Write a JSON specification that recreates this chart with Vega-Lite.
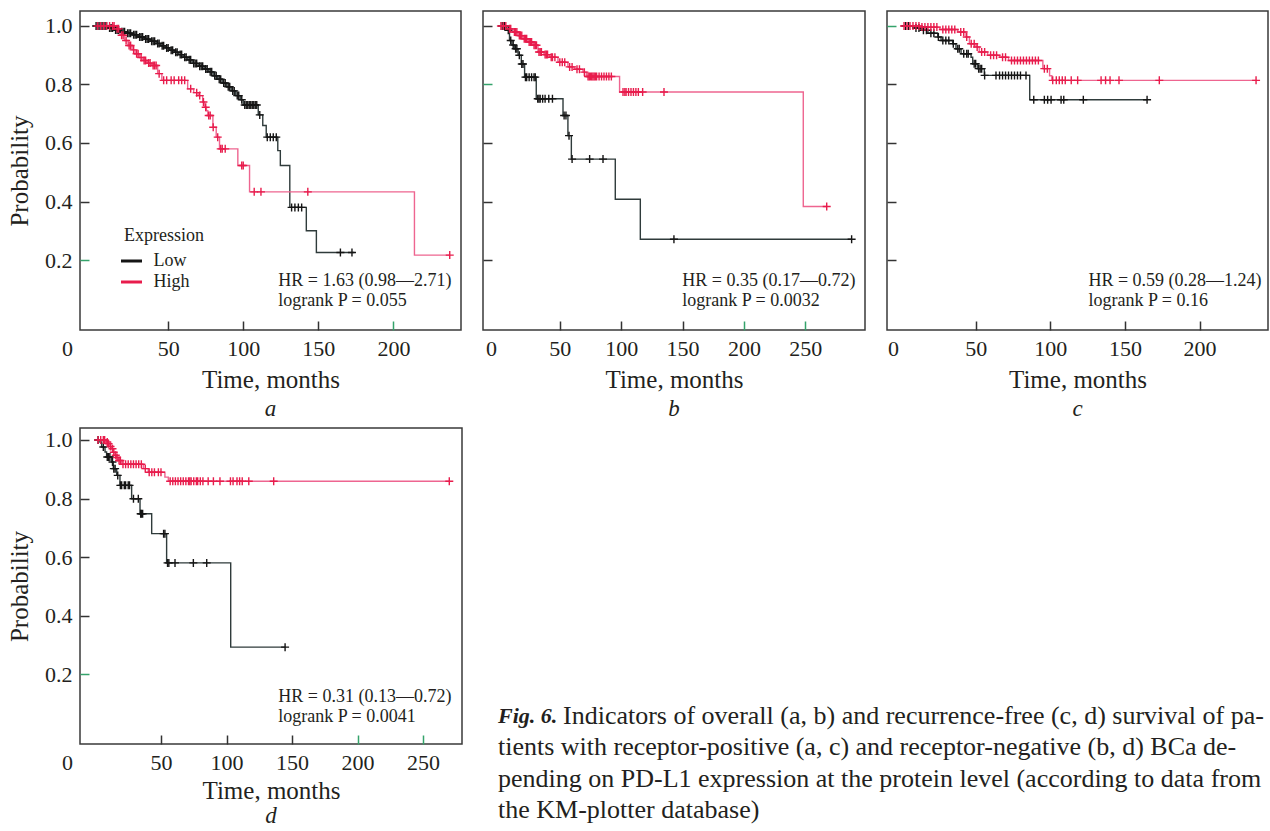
{
  "$schema": "https://vega.github.io/schema/vega-lite/v6.json",
  "padding": {"left": 6, "top": 10, "right": 0, "bottom": 0},
  "background": "white",
  "config": {
    "view": {"stroke": "#3a3a3a", "strokeWidth": 1.5},
    "axis": {"domain": false, "grid": false, "tickSize": -9, "tickWidth": 1.5, "labelFont": "Liberation Serif", "labelFontSize": 22, "labelColor": "#231f20", "titleFont": "Liberation Serif", "titleFontSize": 25, "titleFontWeight": "normal", "titleColor": "#231f20", "labelFlush": false, "labelOverlap": false},
    "axisX": {"labelPadding": 27, "labelBaseline": "middle", "titlePadding": 8},
    "axisY": {"labelPadding": 17, "titlePadding": 12},
    "title": {"font": "Liberation Serif", "fontSize": 23, "fontStyle": "italic", "fontWeight": "normal", "color": "#231f20", "orient": "bottom", "offset": 6}
  },
  "datasets": {
    "steps": [
      {"p":"a","g":"Low","t":0,"s":1},{"p":"a","g":"Low","t":10,"s":0.993},{"p":"a","g":"Low","t":14,"s":0.986},{"p":"a","g":"Low","t":18,"s":0.98},{"p":"a","g":"Low","t":22,"s":0.975},{"p":"a","g":"Low","t":26,"s":0.97},{"p":"a","g":"Low","t":30,"s":0.962},{"p":"a","g":"Low","t":34,"s":0.955},{"p":"a","g":"Low","t":38,"s":0.948},{"p":"a","g":"Low","t":42,"s":0.94},{"p":"a","g":"Low","t":45,"s":0.932},{"p":"a","g":"Low","t":48,"s":0.925},{"p":"a","g":"Low","t":51,"s":0.917},{"p":"a","g":"Low","t":54,"s":0.91},{"p":"a","g":"Low","t":57,"s":0.902},{"p":"a","g":"Low","t":60,"s":0.893},{"p":"a","g":"Low","t":63,"s":0.884},{"p":"a","g":"Low","t":66,"s":0.872},{"p":"a","g":"Low","t":70,"s":0.862},{"p":"a","g":"Low","t":74,"s":0.853},{"p":"a","g":"Low","t":77,"s":0.843},{"p":"a","g":"Low","t":80,"s":0.83},{"p":"a","g":"Low","t":83,"s":0.818},{"p":"a","g":"Low","t":86,"s":0.805},{"p":"a","g":"Low","t":89,"s":0.792},{"p":"a","g":"Low","t":92,"s":0.778},{"p":"a","g":"Low","t":95,"s":0.762},{"p":"a","g":"Low","t":98,"s":0.748},{"p":"a","g":"Low","t":100,"s":0.73},{"p":"a","g":"Low","t":110,"s":0.696},{"p":"a","g":"Low","t":113,"s":0.66},{"p":"a","g":"Low","t":115.3,"s":0.62},{"p":"a","g":"Low","t":123,"s":0.574},{"p":"a","g":"Low","t":124.7,"s":0.523},{"p":"a","g":"Low","t":131,"s":0.38},{"p":"a","g":"Low","t":142,"s":0.3},{"p":"a","g":"Low","t":148.7,"s":0.226},{"p":"a","g":"Low","t":174,"s":0.226},
      {"p":"a","g":"High","t":0,"s":1},{"p":"a","g":"High","t":15.8,"s":0.99},{"p":"a","g":"High","t":18,"s":0.968},{"p":"a","g":"High","t":21,"s":0.95},{"p":"a","g":"High","t":23.3,"s":0.933},{"p":"a","g":"High","t":26,"s":0.918},{"p":"a","g":"High","t":28,"s":0.905},{"p":"a","g":"High","t":31,"s":0.892},{"p":"a","g":"High","t":33.3,"s":0.882},{"p":"a","g":"High","t":36,"s":0.873},{"p":"a","g":"High","t":39,"s":0.865},{"p":"a","g":"High","t":43,"s":0.837},{"p":"a","g":"High","t":45.8,"s":0.814},{"p":"a","g":"High","t":63,"s":0.785},{"p":"a","g":"High","t":67,"s":0.772},{"p":"a","g":"High","t":70,"s":0.762},{"p":"a","g":"High","t":73,"s":0.74},{"p":"a","g":"High","t":74,"s":0.722},{"p":"a","g":"High","t":75.5,"s":0.71},{"p":"a","g":"High","t":76.4,"s":0.694},{"p":"a","g":"High","t":79.8,"s":0.654},{"p":"a","g":"High","t":82,"s":0.62},{"p":"a","g":"High","t":84.2,"s":0.58},{"p":"a","g":"High","t":96.4,"s":0.523},{"p":"a","g":"High","t":104.2,"s":0.433},{"p":"a","g":"High","t":214,"s":0.217},{"p":"a","g":"High","t":237.5,"s":0.217},
      {"p":"b","g":"Low","t":0,"s":1},{"p":"b","g":"Low","t":6.4,"s":0.985},{"p":"b","g":"Low","t":9,"s":0.95},{"p":"b","g":"Low","t":11,"s":0.935},{"p":"b","g":"Low","t":13,"s":0.922},{"p":"b","g":"Low","t":16,"s":0.9},{"p":"b","g":"Low","t":18.6,"s":0.87},{"p":"b","g":"Low","t":21.3,"s":0.825},{"p":"b","g":"Low","t":30.8,"s":0.751},{"p":"b","g":"Low","t":52.6,"s":0.694},{"p":"b","g":"Low","t":56.6,"s":0.625},{"p":"b","g":"Low","t":59.4,"s":0.545},{"p":"b","g":"Low","t":95.2,"s":0.408},{"p":"b","g":"Low","t":115.6,"s":0.271},{"p":"b","g":"Low","t":287.8,"s":0.271},
      {"p":"b","g":"High","t":0,"s":1},{"p":"b","g":"High","t":8,"s":0.99},{"p":"b","g":"High","t":11.8,"s":0.979},{"p":"b","g":"High","t":16,"s":0.967},{"p":"b","g":"High","t":20,"s":0.956},{"p":"b","g":"High","t":24,"s":0.945},{"p":"b","g":"High","t":28,"s":0.934},{"p":"b","g":"High","t":32.2,"s":0.911},{"p":"b","g":"High","t":37,"s":0.902},{"p":"b","g":"High","t":41.7,"s":0.893},{"p":"b","g":"High","t":48.5,"s":0.876},{"p":"b","g":"High","t":56.6,"s":0.86},{"p":"b","g":"High","t":62,"s":0.852},{"p":"b","g":"High","t":68.9,"s":0.842},{"p":"b","g":"High","t":71.6,"s":0.827},{"p":"b","g":"High","t":98.7,"s":0.774},{"p":"b","g":"High","t":248.4,"s":0.383},{"p":"b","g":"High","t":267.5,"s":0.383},
      {"p":"c","g":"Low","t":0,"s":1},{"p":"c","g":"Low","t":8,"s":0.993},{"p":"c","g":"Low","t":13.4,"s":0.985},{"p":"c","g":"Low","t":18,"s":0.975},{"p":"c","g":"Low","t":24.6,"s":0.962},{"p":"c","g":"Low","t":26.8,"s":0.95},{"p":"c","g":"Low","t":34.6,"s":0.939},{"p":"c","g":"Low","t":36.8,"s":0.922},{"p":"c","g":"Low","t":40.2,"s":0.905},{"p":"c","g":"Low","t":46.9,"s":0.893},{"p":"c","g":"Low","t":48,"s":0.871},{"p":"c","g":"Low","t":51.4,"s":0.854},{"p":"c","g":"Low","t":55.8,"s":0.831},{"p":"c","g":"Low","t":86.2,"s":0.748},{"p":"c","g":"Low","t":164.8,"s":0.748},
      {"p":"c","g":"High","t":0,"s":1},{"p":"c","g":"High","t":13.4,"s":0.996},{"p":"c","g":"High","t":26,"s":0.988},{"p":"c","g":"High","t":38,"s":0.979},{"p":"c","g":"High","t":43.5,"s":0.962},{"p":"c","g":"High","t":45.8,"s":0.939},{"p":"c","g":"High","t":50.2,"s":0.928},{"p":"c","g":"High","t":52.4,"s":0.911},{"p":"c","g":"High","t":58,"s":0.9},{"p":"c","g":"High","t":66,"s":0.893},{"p":"c","g":"High","t":72,"s":0.882},{"p":"c","g":"High","t":95,"s":0.854},{"p":"c","g":"High","t":99.5,"s":0.83},{"p":"c","g":"High","t":101,"s":0.814},{"p":"c","g":"High","t":237.8,"s":0.814},
      {"p":"d","g":"Low","t":0,"s":1},{"p":"d","g":"Low","t":3.4,"s":0.993},{"p":"d","g":"Low","t":4.7,"s":0.976},{"p":"d","g":"Low","t":7.3,"s":0.959},{"p":"d","g":"Low","t":8.5,"s":0.942},{"p":"d","g":"Low","t":12.4,"s":0.925},{"p":"d","g":"Low","t":13.6,"s":0.902},{"p":"d","g":"Low","t":16.2,"s":0.879},{"p":"d","g":"Low","t":18.7,"s":0.845},{"p":"d","g":"Low","t":27.6,"s":0.799},{"p":"d","g":"Low","t":34,"s":0.748},{"p":"d","g":"Low","t":42.9,"s":0.68},{"p":"d","g":"Low","t":54.3,"s":0.58},{"p":"d","g":"Low","t":103.2,"s":0.292},{"p":"d","g":"Low","t":144.7,"s":0.292},
      {"p":"d","g":"High","t":0,"s":1},{"p":"d","g":"High","t":8.5,"s":0.993},{"p":"d","g":"High","t":9.8,"s":0.987},{"p":"d","g":"High","t":11,"s":0.978},{"p":"d","g":"High","t":12.4,"s":0.97},{"p":"d","g":"High","t":13.5,"s":0.958},{"p":"d","g":"High","t":14.9,"s":0.948},{"p":"d","g":"High","t":16,"s":0.94},{"p":"d","g":"High","t":17.4,"s":0.93},{"p":"d","g":"High","t":20,"s":0.917},{"p":"d","g":"High","t":36.5,"s":0.902},{"p":"d","g":"High","t":40.3,"s":0.89},{"p":"d","g":"High","t":53,"s":0.873},{"p":"d","g":"High","t":55.6,"s":0.859},{"p":"d","g":"High","t":270,"s":0.859}
    ],
    "censors": [
      {"p":"a","g":"Low","t":2,"s":1},{"p":"a","g":"Low","t":3,"s":1},{"p":"a","g":"Low","t":4,"s":1},{"p":"a","g":"Low","t":5,"s":1},{"p":"a","g":"Low","t":6,"s":1},{"p":"a","g":"Low","t":7,"s":1},{"p":"a","g":"Low","t":8,"s":1},{"p":"a","g":"Low","t":9,"s":1},{"p":"a","g":"Low","t":11,"s":0.993},{"p":"a","g":"Low","t":12,"s":0.993},{"p":"a","g":"Low","t":13,"s":0.993},{"p":"a","g":"Low","t":15,"s":0.986},{"p":"a","g":"Low","t":16,"s":0.986},{"p":"a","g":"Low","t":17,"s":0.986},{"p":"a","g":"Low","t":19,"s":0.98},{"p":"a","g":"Low","t":20,"s":0.98},{"p":"a","g":"Low","t":21,"s":0.98},{"p":"a","g":"Low","t":23,"s":0.975},{"p":"a","g":"Low","t":24,"s":0.975},{"p":"a","g":"Low","t":25,"s":0.975},{"p":"a","g":"Low","t":27,"s":0.97},{"p":"a","g":"Low","t":28,"s":0.97},{"p":"a","g":"Low","t":29,"s":0.97},{"p":"a","g":"Low","t":31,"s":0.962},{"p":"a","g":"Low","t":32,"s":0.962},{"p":"a","g":"Low","t":33,"s":0.962},{"p":"a","g":"Low","t":35,"s":0.955},{"p":"a","g":"Low","t":36,"s":0.955},{"p":"a","g":"Low","t":37,"s":0.955},{"p":"a","g":"Low","t":39,"s":0.948},{"p":"a","g":"Low","t":40,"s":0.948},{"p":"a","g":"Low","t":41,"s":0.948},{"p":"a","g":"Low","t":43,"s":0.94},{"p":"a","g":"Low","t":44,"s":0.94},{"p":"a","g":"Low","t":46,"s":0.932},{"p":"a","g":"Low","t":47,"s":0.932},{"p":"a","g":"Low","t":49,"s":0.925},{"p":"a","g":"Low","t":50,"s":0.925},{"p":"a","g":"Low","t":52,"s":0.917},{"p":"a","g":"Low","t":53,"s":0.917},{"p":"a","g":"Low","t":55,"s":0.91},{"p":"a","g":"Low","t":56,"s":0.91},{"p":"a","g":"Low","t":58,"s":0.902},{"p":"a","g":"Low","t":59,"s":0.902},{"p":"a","g":"Low","t":61,"s":0.893},{"p":"a","g":"Low","t":62,"s":0.893},{"p":"a","g":"Low","t":64,"s":0.884},{"p":"a","g":"Low","t":65,"s":0.884},{"p":"a","g":"Low","t":67,"s":0.872},{"p":"a","g":"Low","t":68,"s":0.872},{"p":"a","g":"Low","t":69,"s":0.872},{"p":"a","g":"Low","t":71,"s":0.862},{"p":"a","g":"Low","t":72,"s":0.862},{"p":"a","g":"Low","t":73,"s":0.862},{"p":"a","g":"Low","t":75,"s":0.853},{"p":"a","g":"Low","t":76,"s":0.853},{"p":"a","g":"Low","t":78,"s":0.843},{"p":"a","g":"Low","t":79,"s":0.843},{"p":"a","g":"Low","t":81,"s":0.83},{"p":"a","g":"Low","t":82,"s":0.83},{"p":"a","g":"Low","t":84,"s":0.818},{"p":"a","g":"Low","t":85,"s":0.818},{"p":"a","g":"Low","t":87,"s":0.805},{"p":"a","g":"Low","t":88,"s":0.805},{"p":"a","g":"Low","t":90,"s":0.792},{"p":"a","g":"Low","t":91,"s":0.792},{"p":"a","g":"Low","t":93,"s":0.778},{"p":"a","g":"Low","t":94,"s":0.778},{"p":"a","g":"Low","t":96,"s":0.762},{"p":"a","g":"Low","t":97,"s":0.762},{"p":"a","g":"Low","t":99,"s":0.748},{"p":"a","g":"Low","t":101,"s":0.73},{"p":"a","g":"Low","t":102,"s":0.73},{"p":"a","g":"Low","t":103,"s":0.73},{"p":"a","g":"Low","t":104,"s":0.73},{"p":"a","g":"Low","t":105,"s":0.73},{"p":"a","g":"Low","t":106,"s":0.73},{"p":"a","g":"Low","t":107,"s":0.73},{"p":"a","g":"Low","t":108,"s":0.73},{"p":"a","g":"Low","t":109,"s":0.73},{"p":"a","g":"Low","t":111,"s":0.696},{"p":"a","g":"Low","t":116,"s":0.62},{"p":"a","g":"Low","t":118,"s":0.62},{"p":"a","g":"Low","t":120,"s":0.62},{"p":"a","g":"Low","t":122,"s":0.62},{"p":"a","g":"Low","t":132.2,"s":0.38},{"p":"a","g":"Low","t":134.4,"s":0.38},{"p":"a","g":"Low","t":136.7,"s":0.38},{"p":"a","g":"Low","t":138.9,"s":0.38},{"p":"a","g":"Low","t":164.7,"s":0.226},{"p":"a","g":"Low","t":172.4,"s":0.226},
      {"p":"a","g":"High","t":3,"s":1},{"p":"a","g":"High","t":5,"s":1},{"p":"a","g":"High","t":7,"s":1},{"p":"a","g":"High","t":9,"s":1},{"p":"a","g":"High","t":11,"s":1},{"p":"a","g":"High","t":13,"s":1},{"p":"a","g":"High","t":14,"s":1},{"p":"a","g":"High","t":16,"s":0.99},{"p":"a","g":"High","t":17,"s":0.99},{"p":"a","g":"High","t":19,"s":0.968},{"p":"a","g":"High","t":20,"s":0.968},{"p":"a","g":"High","t":22,"s":0.95},{"p":"a","g":"High","t":24,"s":0.933},{"p":"a","g":"High","t":25,"s":0.933},{"p":"a","g":"High","t":27,"s":0.918},{"p":"a","g":"High","t":29,"s":0.905},{"p":"a","g":"High","t":30,"s":0.905},{"p":"a","g":"High","t":32,"s":0.892},{"p":"a","g":"High","t":34,"s":0.882},{"p":"a","g":"High","t":35,"s":0.882},{"p":"a","g":"High","t":37,"s":0.873},{"p":"a","g":"High","t":38,"s":0.873},{"p":"a","g":"High","t":40,"s":0.865},{"p":"a","g":"High","t":41,"s":0.865},{"p":"a","g":"High","t":42,"s":0.865},{"p":"a","g":"High","t":44,"s":0.837},{"p":"a","g":"High","t":47,"s":0.814},{"p":"a","g":"High","t":49,"s":0.814},{"p":"a","g":"High","t":52,"s":0.814},{"p":"a","g":"High","t":54,"s":0.814},{"p":"a","g":"High","t":57,"s":0.814},{"p":"a","g":"High","t":59,"s":0.814},{"p":"a","g":"High","t":61,"s":0.814},{"p":"a","g":"High","t":65,"s":0.785},{"p":"a","g":"High","t":69,"s":0.772},{"p":"a","g":"High","t":71,"s":0.762},{"p":"a","g":"High","t":73.5,"s":0.74},{"p":"a","g":"High","t":75,"s":0.722},{"p":"a","g":"High","t":77,"s":0.694},{"p":"a","g":"High","t":78,"s":0.694},{"p":"a","g":"High","t":80,"s":0.654},{"p":"a","g":"High","t":83,"s":0.62},{"p":"a","g":"High","t":85,"s":0.58},{"p":"a","g":"High","t":86,"s":0.58},{"p":"a","g":"High","t":88,"s":0.58},{"p":"a","g":"High","t":99,"s":0.523},{"p":"a","g":"High","t":100,"s":0.523},{"p":"a","g":"High","t":107.3,"s":0.433},{"p":"a","g":"High","t":111.8,"s":0.433},{"p":"a","g":"High","t":143,"s":0.433},{"p":"a","g":"High","t":237.5,"s":0.217},
      {"p":"b","g":"Low","t":3,"s":1},{"p":"b","g":"Low","t":5,"s":1},{"p":"b","g":"Low","t":8,"s":0.985},{"p":"b","g":"Low","t":10,"s":0.95},{"p":"b","g":"Low","t":12,"s":0.935},{"p":"b","g":"Low","t":14,"s":0.922},{"p":"b","g":"Low","t":15,"s":0.922},{"p":"b","g":"Low","t":17,"s":0.9},{"p":"b","g":"Low","t":19,"s":0.87},{"p":"b","g":"Low","t":20,"s":0.87},{"p":"b","g":"Low","t":22,"s":0.825},{"p":"b","g":"Low","t":23,"s":0.825},{"p":"b","g":"Low","t":25,"s":0.825},{"p":"b","g":"Low","t":27,"s":0.825},{"p":"b","g":"Low","t":29,"s":0.825},{"p":"b","g":"Low","t":30,"s":0.825},{"p":"b","g":"Low","t":32,"s":0.751},{"p":"b","g":"Low","t":33,"s":0.751},{"p":"b","g":"Low","t":34,"s":0.751},{"p":"b","g":"Low","t":36,"s":0.751},{"p":"b","g":"Low","t":38,"s":0.751},{"p":"b","g":"Low","t":41,"s":0.751},{"p":"b","g":"Low","t":44,"s":0.751},{"p":"b","g":"Low","t":53.5,"s":0.694},{"p":"b","g":"Low","t":55,"s":0.694},{"p":"b","g":"Low","t":57.5,"s":0.625},{"p":"b","g":"Low","t":60,"s":0.545},{"p":"b","g":"Low","t":74.3,"s":0.545},{"p":"b","g":"Low","t":85.2,"s":0.545},{"p":"b","g":"Low","t":143,"s":0.271},{"p":"b","g":"Low","t":287.8,"s":0.271},
      {"p":"b","g":"High","t":2,"s":1},{"p":"b","g":"High","t":4,"s":1},{"p":"b","g":"High","t":6,"s":1},{"p":"b","g":"High","t":9,"s":0.99},{"p":"b","g":"High","t":10,"s":0.99},{"p":"b","g":"High","t":13,"s":0.979},{"p":"b","g":"High","t":14,"s":0.979},{"p":"b","g":"High","t":15,"s":0.979},{"p":"b","g":"High","t":17,"s":0.967},{"p":"b","g":"High","t":18,"s":0.967},{"p":"b","g":"High","t":19,"s":0.967},{"p":"b","g":"High","t":21,"s":0.956},{"p":"b","g":"High","t":22,"s":0.956},{"p":"b","g":"High","t":23,"s":0.956},{"p":"b","g":"High","t":25,"s":0.945},{"p":"b","g":"High","t":26,"s":0.945},{"p":"b","g":"High","t":27,"s":0.945},{"p":"b","g":"High","t":29,"s":0.934},{"p":"b","g":"High","t":30,"s":0.934},{"p":"b","g":"High","t":31,"s":0.934},{"p":"b","g":"High","t":33,"s":0.911},{"p":"b","g":"High","t":34,"s":0.911},{"p":"b","g":"High","t":35,"s":0.911},{"p":"b","g":"High","t":38,"s":0.902},{"p":"b","g":"High","t":39,"s":0.902},{"p":"b","g":"High","t":40,"s":0.902},{"p":"b","g":"High","t":43,"s":0.893},{"p":"b","g":"High","t":44,"s":0.893},{"p":"b","g":"High","t":46,"s":0.893},{"p":"b","g":"High","t":50,"s":0.876},{"p":"b","g":"High","t":52,"s":0.876},{"p":"b","g":"High","t":54,"s":0.876},{"p":"b","g":"High","t":58,"s":0.86},{"p":"b","g":"High","t":60,"s":0.86},{"p":"b","g":"High","t":64,"s":0.852},{"p":"b","g":"High","t":66,"s":0.852},{"p":"b","g":"High","t":70,"s":0.842},{"p":"b","g":"High","t":73,"s":0.827},{"p":"b","g":"High","t":74,"s":0.827},{"p":"b","g":"High","t":75,"s":0.827},{"p":"b","g":"High","t":76,"s":0.827},{"p":"b","g":"High","t":77,"s":0.827},{"p":"b","g":"High","t":78,"s":0.827},{"p":"b","g":"High","t":79,"s":0.827},{"p":"b","g":"High","t":80,"s":0.827},{"p":"b","g":"High","t":82,"s":0.827},{"p":"b","g":"High","t":84,"s":0.827},{"p":"b","g":"High","t":86,"s":0.827},{"p":"b","g":"High","t":88,"s":0.827},{"p":"b","g":"High","t":90,"s":0.827},{"p":"b","g":"High","t":92,"s":0.827},{"p":"b","g":"High","t":101.5,"s":0.774},{"p":"b","g":"High","t":103,"s":0.774},{"p":"b","g":"High","t":104,"s":0.774},{"p":"b","g":"High","t":106,"s":0.774},{"p":"b","g":"High","t":108,"s":0.774},{"p":"b","g":"High","t":110,"s":0.774},{"p":"b","g":"High","t":112,"s":0.774},{"p":"b","g":"High","t":114,"s":0.774},{"p":"b","g":"High","t":117.5,"s":0.774},{"p":"b","g":"High","t":134.9,"s":0.774},{"p":"b","g":"High","t":267.5,"s":0.383},
      {"p":"c","g":"Low","t":3,"s":1},{"p":"c","g":"Low","t":5,"s":1},{"p":"c","g":"Low","t":10,"s":0.993},{"p":"c","g":"Low","t":12,"s":0.993},{"p":"c","g":"Low","t":15,"s":0.985},{"p":"c","g":"Low","t":17,"s":0.985},{"p":"c","g":"Low","t":20,"s":0.975},{"p":"c","g":"Low","t":22,"s":0.975},{"p":"c","g":"Low","t":25,"s":0.962},{"p":"c","g":"Low","t":28,"s":0.95},{"p":"c","g":"Low","t":30,"s":0.95},{"p":"c","g":"Low","t":32,"s":0.95},{"p":"c","g":"Low","t":35,"s":0.939},{"p":"c","g":"Low","t":38,"s":0.922},{"p":"c","g":"Low","t":39,"s":0.922},{"p":"c","g":"Low","t":42,"s":0.905},{"p":"c","g":"Low","t":44,"s":0.905},{"p":"c","g":"Low","t":45,"s":0.905},{"p":"c","g":"Low","t":49,"s":0.871},{"p":"c","g":"Low","t":50,"s":0.871},{"p":"c","g":"Low","t":52,"s":0.854},{"p":"c","g":"Low","t":53,"s":0.854},{"p":"c","g":"Low","t":54,"s":0.854},{"p":"c","g":"Low","t":56,"s":0.831},{"p":"c","g":"Low","t":63.6,"s":0.831},{"p":"c","g":"Low","t":66,"s":0.831},{"p":"c","g":"Low","t":68,"s":0.831},{"p":"c","g":"Low","t":70,"s":0.831},{"p":"c","g":"Low","t":72,"s":0.831},{"p":"c","g":"Low","t":74,"s":0.831},{"p":"c","g":"Low","t":76,"s":0.831},{"p":"c","g":"Low","t":78,"s":0.831},{"p":"c","g":"Low","t":80,"s":0.831},{"p":"c","g":"Low","t":83.7,"s":0.831},{"p":"c","g":"Low","t":88.9,"s":0.748},{"p":"c","g":"Low","t":96,"s":0.748},{"p":"c","g":"Low","t":98.2,"s":0.748},{"p":"c","g":"Low","t":100.5,"s":0.748},{"p":"c","g":"Low","t":107.2,"s":0.748},{"p":"c","g":"Low","t":109,"s":0.748},{"p":"c","g":"Low","t":122.1,"s":0.748},{"p":"c","g":"Low","t":164.8,"s":0.748},
      {"p":"c","g":"High","t":2,"s":1},{"p":"c","g":"High","t":4,"s":1},{"p":"c","g":"High","t":6,"s":1},{"p":"c","g":"High","t":8,"s":1},{"p":"c","g":"High","t":10,"s":1},{"p":"c","g":"High","t":12,"s":1},{"p":"c","g":"High","t":14,"s":0.996},{"p":"c","g":"High","t":16,"s":0.996},{"p":"c","g":"High","t":18,"s":0.996},{"p":"c","g":"High","t":20,"s":0.996},{"p":"c","g":"High","t":22,"s":0.996},{"p":"c","g":"High","t":24,"s":0.996},{"p":"c","g":"High","t":28,"s":0.988},{"p":"c","g":"High","t":30,"s":0.988},{"p":"c","g":"High","t":32,"s":0.988},{"p":"c","g":"High","t":34,"s":0.988},{"p":"c","g":"High","t":36,"s":0.988},{"p":"c","g":"High","t":40,"s":0.979},{"p":"c","g":"High","t":42,"s":0.979},{"p":"c","g":"High","t":44,"s":0.962},{"p":"c","g":"High","t":47,"s":0.939},{"p":"c","g":"High","t":49,"s":0.939},{"p":"c","g":"High","t":51,"s":0.928},{"p":"c","g":"High","t":54,"s":0.911},{"p":"c","g":"High","t":56,"s":0.911},{"p":"c","g":"High","t":60,"s":0.9},{"p":"c","g":"High","t":62,"s":0.9},{"p":"c","g":"High","t":64,"s":0.9},{"p":"c","g":"High","t":68,"s":0.893},{"p":"c","g":"High","t":70,"s":0.893},{"p":"c","g":"High","t":74,"s":0.882},{"p":"c","g":"High","t":76,"s":0.882},{"p":"c","g":"High","t":78,"s":0.882},{"p":"c","g":"High","t":80,"s":0.882},{"p":"c","g":"High","t":82,"s":0.882},{"p":"c","g":"High","t":84,"s":0.882},{"p":"c","g":"High","t":86,"s":0.882},{"p":"c","g":"High","t":88,"s":0.882},{"p":"c","g":"High","t":90,"s":0.882},{"p":"c","g":"High","t":92,"s":0.882},{"p":"c","g":"High","t":96,"s":0.854},{"p":"c","g":"High","t":98,"s":0.854},{"p":"c","g":"High","t":101.6,"s":0.814},{"p":"c","g":"High","t":104,"s":0.814},{"p":"c","g":"High","t":106,"s":0.814},{"p":"c","g":"High","t":108,"s":0.814},{"p":"c","g":"High","t":110,"s":0.814},{"p":"c","g":"High","t":114,"s":0.814},{"p":"c","g":"High","t":118.3,"s":0.814},{"p":"c","g":"High","t":134,"s":0.814},{"p":"c","g":"High","t":137,"s":0.814},{"p":"c","g":"High","t":140,"s":0.814},{"p":"c","g":"High","t":146,"s":0.814},{"p":"c","g":"High","t":173,"s":0.814},{"p":"c","g":"High","t":237.8,"s":0.814},
      {"p":"d","g":"Low","t":2,"s":1},{"p":"d","g":"Low","t":6,"s":0.976},{"p":"d","g":"Low","t":9,"s":0.942},{"p":"d","g":"Low","t":10,"s":0.942},{"p":"d","g":"Low","t":11,"s":0.942},{"p":"d","g":"Low","t":13,"s":0.925},{"p":"d","g":"Low","t":14,"s":0.902},{"p":"d","g":"Low","t":15,"s":0.902},{"p":"d","g":"Low","t":17,"s":0.879},{"p":"d","g":"Low","t":19,"s":0.845},{"p":"d","g":"Low","t":20,"s":0.845},{"p":"d","g":"Low","t":22,"s":0.845},{"p":"d","g":"Low","t":23,"s":0.845},{"p":"d","g":"Low","t":25,"s":0.845},{"p":"d","g":"Low","t":26,"s":0.845},{"p":"d","g":"Low","t":29,"s":0.799},{"p":"d","g":"Low","t":32.7,"s":0.799},{"p":"d","g":"Low","t":34.5,"s":0.748},{"p":"d","g":"Low","t":35,"s":0.748},{"p":"d","g":"Low","t":36,"s":0.748},{"p":"d","g":"Low","t":52,"s":0.68},{"p":"d","g":"Low","t":53,"s":0.68},{"p":"d","g":"Low","t":55,"s":0.58},{"p":"d","g":"Low","t":56,"s":0.58},{"p":"d","g":"Low","t":60.7,"s":0.58},{"p":"d","g":"Low","t":74.7,"s":0.58},{"p":"d","g":"Low","t":84.9,"s":0.58},{"p":"d","g":"Low","t":144.7,"s":0.292},
      {"p":"d","g":"High","t":2,"s":1},{"p":"d","g":"High","t":4,"s":1},{"p":"d","g":"High","t":6,"s":1},{"p":"d","g":"High","t":7,"s":1},{"p":"d","g":"High","t":9,"s":0.993},{"p":"d","g":"High","t":10,"s":0.987},{"p":"d","g":"High","t":11.5,"s":0.978},{"p":"d","g":"High","t":13,"s":0.97},{"p":"d","g":"High","t":14,"s":0.958},{"p":"d","g":"High","t":15.5,"s":0.948},{"p":"d","g":"High","t":16.5,"s":0.94},{"p":"d","g":"High","t":18,"s":0.93},{"p":"d","g":"High","t":19,"s":0.93},{"p":"d","g":"High","t":21,"s":0.917},{"p":"d","g":"High","t":23,"s":0.917},{"p":"d","g":"High","t":25,"s":0.917},{"p":"d","g":"High","t":27,"s":0.917},{"p":"d","g":"High","t":29,"s":0.917},{"p":"d","g":"High","t":31,"s":0.917},{"p":"d","g":"High","t":33,"s":0.917},{"p":"d","g":"High","t":35,"s":0.917},{"p":"d","g":"High","t":38,"s":0.902},{"p":"d","g":"High","t":41,"s":0.89},{"p":"d","g":"High","t":43,"s":0.89},{"p":"d","g":"High","t":45,"s":0.89},{"p":"d","g":"High","t":48,"s":0.89},{"p":"d","g":"High","t":50,"s":0.89},{"p":"d","g":"High","t":57,"s":0.859},{"p":"d","g":"High","t":59,"s":0.859},{"p":"d","g":"High","t":61,"s":0.859},{"p":"d","g":"High","t":63,"s":0.859},{"p":"d","g":"High","t":65,"s":0.859},{"p":"d","g":"High","t":67,"s":0.859},{"p":"d","g":"High","t":69,"s":0.859},{"p":"d","g":"High","t":71,"s":0.859},{"p":"d","g":"High","t":72,"s":0.859},{"p":"d","g":"High","t":73,"s":0.859},{"p":"d","g":"High","t":75,"s":0.859},{"p":"d","g":"High","t":77,"s":0.859},{"p":"d","g":"High","t":78,"s":0.859},{"p":"d","g":"High","t":80,"s":0.859},{"p":"d","g":"High","t":82,"s":0.859},{"p":"d","g":"High","t":86,"s":0.859},{"p":"d","g":"High","t":90,"s":0.859},{"p":"d","g":"High","t":95,"s":0.859},{"p":"d","g":"High","t":103,"s":0.859},{"p":"d","g":"High","t":105,"s":0.859},{"p":"d","g":"High","t":108,"s":0.859},{"p":"d","g":"High","t":110,"s":0.859},{"p":"d","g":"High","t":112,"s":0.859},{"p":"d","g":"High","t":117,"s":0.859},{"p":"d","g":"High","t":136,"s":0.859},{"p":"d","g":"High","t":270,"s":0.859}
    ],
    "caption": [
      {"line": 1, "part": "label", "text": "Fig. 6."},
      {"line": 1, "part": "body", "text": "Indicators of overall (a, b) and recurrence-free (c, d) survival of pa-"},
      {"line": 2, "part": "body", "text": "tients with receptor-positive (a, c) and receptor-negative (b, d) BCa de-"},
      {"line": 3, "part": "body", "text": "pending on PD-L1 expression at the protein level (according to data from"},
      {"line": 4, "part": "body", "text": "the KM-plotter database)"}
    ]
  },
  "resolve": {"scale": {"color": "independent"}, "legend": {"color": "independent"}},
  "spacing": 5,
  "vconcat": [
    {
      "bounds": "flush",
      "spacing": 22,
      "resolve": {"scale": {"color": "independent"}, "legend": {"color": "independent"}},
      "hconcat": [
        {
          "width": 381, "height": 319,
          "title": "a",
          "layer": [
            {
              "data": {"name": "steps"},
              "transform": [{"filter": "datum.p === 'a'"}],
              "mark": {"type": "line", "interpolate": "step-after", "strokeWidth": 1.4},
              "encoding": {
                "x": {"field": "t", "type": "quantitative", "scale": {"domain": [-8.7, 245], "nice": false, "zero": false},
                  "axis": {"title": "Time, months", "values": [0, 50, 100, 150, 200],
                    "labelOffset": {"condition": {"test": "datum.value === 0", "value": -26}, "value": 0},
                    "tickOpacity": {"condition": {"test": "datum.value === 0", "value": 0}, "value": 1},
                    "tickColor": {"condition": {"test": "datum.value >= 200", "value": "#34a36b"}, "value": "#333333"}}},
                "y": {"field": "s", "type": "quantitative", "scale": {"domain": [-0.039, 1.051], "nice": false, "zero": false},
                  "axis": {"title": "Probability", "values": [0.2, 0.4, 0.6, 0.8, 1.0], "format": ".1f",
                    "tickColor": {"condition": {"test": "abs(datum.value - 0.2) < 0.01", "value": "#34a36b"}, "value": "#333333"}}},
                "detail": {"field": "g", "type": "nominal"},
                "stroke": {"condition": {"test": "datum.g === 'Low'", "value": "#2f3b3b"}, "value": "#ee6590"}
              }
            },
            {
              "data": {"name": "censors"},
              "transform": [{"filter": "datum.p === 'a'"}],
              "mark": {"type": "point", "shape": "M0,-1V1M-1,0H1", "filled": false, "size": 64, "strokeWidth": 1.4, "opacity": 1},
              "encoding": {
                "x": {"field": "t", "type": "quantitative"},
                "y": {"field": "s", "type": "quantitative"},
                "color": {"field": "g", "type": "nominal", "scale": {"domain": ["Low", "High"], "range": ["#151515", "#e81c4c"]},
                  "legend": {"title": "Expression", "orient": "none", "legendX": 44, "legendY": 216, "padding": 0,
                    "symbolType": "stroke", "symbolSize": 441, "symbolStrokeWidth": 3, "symbolOffset": -4.5,
                    "labelOffset": 10, "rowPadding": 0, "titlePadding": 4,
                    "titleFont": "Liberation Serif", "titleFontSize": 18, "titleFontWeight": "normal", "titleColor": "#231f20",
                    "labelFont": "Liberation Serif", "labelFontSize": 18, "labelColor": "#231f20"}}
              }
            },
            {
              "data": {"values": [{"label": "HR = 1.63 (0.98—2.71)\nlogrank P = 0.055"}]},
              "mark": {"type": "text", "align": "left", "baseline": "alphabetic", "lineBreak": "\n", "lineHeight": 20, "font": "Liberation Serif", "fontSize": 18, "color": "#231f20"},
              "encoding": {
                "x": {"datum": 123.3, "type": "quantitative"},
                "y": {"datum": 0.11, "type": "quantitative"},
                "text": {"field": "label"}
              }
            }
          ]
        },
        {
          "width": 382, "height": 319,
          "title": "b",
          "layer": [
            {
              "data": {"name": "steps"},
              "transform": [{"filter": "datum.p === 'b'"}],
              "mark": {"type": "line", "interpolate": "step-after", "strokeWidth": 1.4},
              "encoding": {
                "x": {"field": "t", "type": "quantitative", "scale": {"domain": [-12.6, 298.7], "nice": false, "zero": false},
                  "axis": {"title": "Time, months", "values": [0, 50, 100, 150, 200, 250],
                    "labelOffset": {"condition": {"test": "datum.value === 0", "value": -7.5}, "value": 0},
                    "tickOpacity": {"condition": {"test": "datum.value === 0", "value": 0}, "value": 1},
                    "tickColor": {"condition": {"test": "datum.value >= 200", "value": "#34a36b"}, "value": "#333333"}}},
                "y": {"field": "s", "type": "quantitative", "scale": {"domain": [-0.039, 1.051], "nice": false, "zero": false},
                  "axis": {"title": null, "labels": false, "values": [0.2, 0.4, 0.6, 0.8, 1.0],
                    "tickColor": {"condition": {"test": "abs(datum.value - 0.8) < 0.01", "value": "#34a36b"}, "value": "#333333"}}},
                "detail": {"field": "g", "type": "nominal"},
                "stroke": {"condition": {"test": "datum.g === 'Low'", "value": "#2f3b3b"}, "value": "#ee6590"}
              }
            },
            {
              "data": {"name": "censors"},
              "transform": [{"filter": "datum.p === 'b'"}],
              "mark": {"type": "point", "shape": "M0,-1V1M-1,0H1", "filled": false, "size": 64, "strokeWidth": 1.4, "opacity": 1},
              "encoding": {
                "x": {"field": "t", "type": "quantitative"},
                "y": {"field": "s", "type": "quantitative"},
                "color": {"field": "g", "type": "nominal", "scale": {"domain": ["Low", "High"], "range": ["#151515", "#e81c4c"]}, "legend": null}
              }
            },
            {
              "data": {"values": [{"label": "HR = 0.35 (0.17—0.72)\nlogrank P = 0.0032"}]},
              "mark": {"type": "text", "align": "left", "baseline": "alphabetic", "lineBreak": "\n", "lineHeight": 20, "font": "Liberation Serif", "fontSize": 18, "color": "#231f20"},
              "encoding": {
                "x": {"datum": 149.8, "type": "quantitative"},
                "y": {"datum": 0.11, "type": "quantitative"},
                "text": {"field": "label"}
              }
            }
          ]
        },
        {
          "width": 381, "height": 319,
          "title": "c",
          "layer": [
            {
              "data": {"name": "steps"},
              "transform": [{"filter": "datum.p === 'c'"}],
              "mark": {"type": "line", "interpolate": "step-after", "strokeWidth": 1.4},
              "encoding": {
                "x": {"field": "t", "type": "quantitative", "scale": {"domain": [-9.4, 245.8], "nice": false, "zero": false},
                  "axis": {"title": "Time, months", "values": [0, 50, 100, 150, 200],
                    "labelOffset": {"condition": {"test": "datum.value === 0", "value": -8}, "value": 0},
                    "tickOpacity": {"condition": {"test": "datum.value === 0", "value": 0}, "value": 1},
                    "tickColor": "#333333"}},
                "y": {"field": "s", "type": "quantitative", "scale": {"domain": [-0.039, 1.051], "nice": false, "zero": false},
                  "axis": {"title": null, "labels": false, "values": [0.2, 0.4, 0.6, 0.8, 1.0],
                    "tickColor": {"condition": {"test": "abs(datum.value - 1.0) < 0.01", "value": "#34a36b"}, "value": "#333333"}}},
                "detail": {"field": "g", "type": "nominal"},
                "stroke": {"condition": {"test": "datum.g === 'Low'", "value": "#2f3b3b"}, "value": "#ee6590"}
              }
            },
            {
              "data": {"name": "censors"},
              "transform": [{"filter": "datum.p === 'c'"}],
              "mark": {"type": "point", "shape": "M0,-1V1M-1,0H1", "filled": false, "size": 64, "strokeWidth": 1.4, "opacity": 1},
              "encoding": {
                "x": {"field": "t", "type": "quantitative"},
                "y": {"field": "s", "type": "quantitative"},
                "color": {"field": "g", "type": "nominal", "scale": {"domain": ["Low", "High"], "range": ["#151515", "#e81c4c"]}, "legend": null}
              }
            },
            {
              "data": {"values": [{"label": "HR = 0.59 (0.28—1.24)\nlogrank P = 0.16"}]},
              "mark": {"type": "text", "align": "left", "baseline": "alphabetic", "lineBreak": "\n", "lineHeight": 20, "font": "Liberation Serif", "fontSize": 18, "color": "#231f20"},
              "encoding": {
                "x": {"datum": 125.5, "type": "quantitative"},
                "y": {"datum": 0.11, "type": "quantitative"},
                "text": {"field": "label"}
              }
            }
          ]
        }
      ]
    },
    {
      "bounds": "flush",
      "spacing": 36,
      "resolve": {"scale": {"color": "independent"}, "legend": {"color": "independent"}},
      "hconcat": [
        {
          "width": 382, "height": 316,
          "title": {"text": "d", "offset": 2},
          "layer": [
            {
              "data": {"name": "steps"},
              "transform": [{"filter": "datum.p === 'd'"}],
              "mark": {"type": "line", "interpolate": "step-after", "strokeWidth": 1.4},
              "encoding": {
                "x": {"field": "t", "type": "quantitative", "scale": {"domain": [-11.8, 279.7], "nice": false, "zero": false},
                  "axis": {"title": "Time, months", "titlePadding": 5, "values": [0, 50, 100, 150, 200, 250],
                    "labelOffset": {"condition": {"test": "datum.value === 0", "value": -28.5}, "value": 0},
                    "tickOpacity": {"condition": {"test": "datum.value === 0", "value": 0}, "value": 1},
                    "tickColor": {"condition": {"test": "datum.value >= 200", "value": "#34a36b"}, "value": "#333333"}}},
                "y": {"field": "s", "type": "quantitative", "scale": {"domain": [-0.039, 1.041], "nice": false, "zero": false},
                  "axis": {"title": "Probability", "values": [0.2, 0.4, 0.6, 0.8, 1.0], "format": ".1f",
                    "tickColor": {"condition": {"test": "abs(datum.value - 0.2) < 0.01", "value": "#34a36b"}, "value": "#333333"}}},
                "detail": {"field": "g", "type": "nominal"},
                "stroke": {"condition": {"test": "datum.g === 'Low'", "value": "#2f3b3b"}, "value": "#ee6590"}
              }
            },
            {
              "data": {"name": "censors"},
              "transform": [{"filter": "datum.p === 'd'"}],
              "mark": {"type": "point", "shape": "M0,-1V1M-1,0H1", "filled": false, "size": 64, "strokeWidth": 1.4, "opacity": 1},
              "encoding": {
                "x": {"field": "t", "type": "quantitative"},
                "y": {"field": "s", "type": "quantitative"},
                "color": {"field": "g", "type": "nominal", "scale": {"domain": ["Low", "High"], "range": ["#151515", "#e81c4c"]}, "legend": null}
              }
            },
            {
              "data": {"values": [{"label": "HR = 0.31 (0.13—0.72)\nlogrank P = 0.0041"}]},
              "mark": {"type": "text", "align": "left", "baseline": "alphabetic", "lineBreak": "\n", "lineHeight": 20, "font": "Liberation Serif", "fontSize": 18, "color": "#231f20"},
              "encoding": {
                "x": {"datum": 139.5, "type": "quantitative"},
                "y": {"datum": 0.106, "type": "quantitative"},
                "text": {"field": "label"}
              }
            }
          ]
        },
        {
          "width": 770, "height": 400,
          "view": {"stroke": null},
          "data": {"name": "caption"},
          "encoding": {
            "x": {"datum": 0, "type": "quantitative", "scale": {"domain": [0, 1], "nice": false, "zero": false}, "axis": null},
            "y": {"field": "line", "type": "quantitative", "scale": {"domain": [-8.143, 4.556], "reverse": true, "nice": false, "zero": false}, "axis": null},
            "text": {"field": "text"}
          },
          "layer": [
            {
              "transform": [{"filter": "datum.part === 'label'"}],
              "mark": {"type": "text", "align": "left", "baseline": "middle", "font": "Liberation Serif", "fontSize": 22, "fontStyle": "italic", "fontWeight": "bold", "color": "#231f20"}
            },
            {
              "transform": [{"filter": "datum.part === 'body' && datum.line === 1"}],
              "mark": {"type": "text", "align": "left", "baseline": "middle", "dx": 65, "font": "Liberation Serif", "fontSize": 26, "color": "#231f20"}
            },
            {
              "transform": [{"filter": "datum.part === 'body' && datum.line > 1"}],
              "mark": {"type": "text", "align": "left", "baseline": "middle", "font": "Liberation Serif", "fontSize": 26, "color": "#231f20"}
            }
          ]
        }
      ]
    }
  ]
}
